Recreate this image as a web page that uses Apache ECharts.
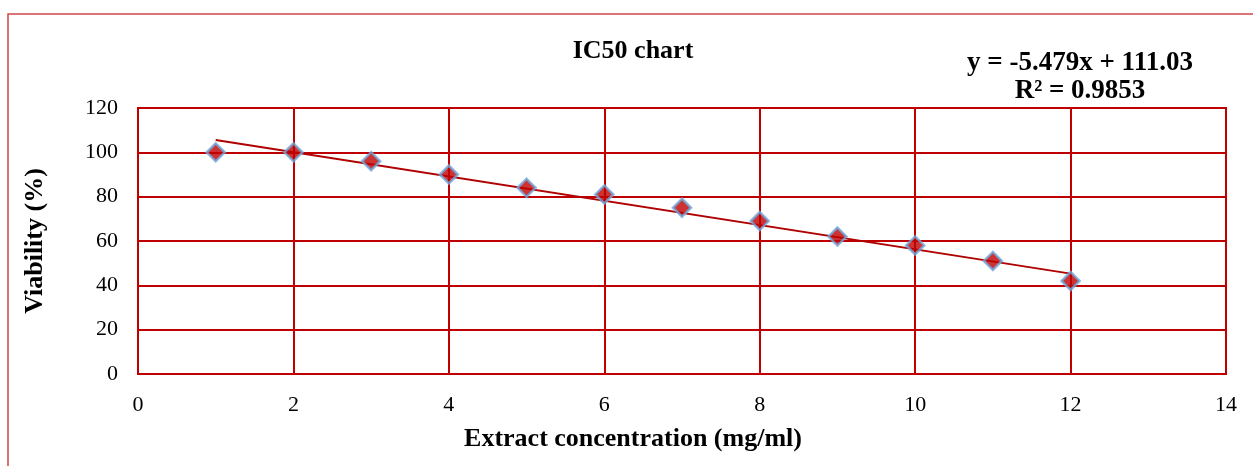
<!DOCTYPE html>
<html>
<head>
<meta charset="utf-8">
<script src="https://cdn.jsdelivr.net/npm/echarts@6/dist/echarts.min.js"></script>
<style>
html,body{margin:0;padding:0;background:#fff;}
#chart{width:1253px;height:466px;}
</style>
</head>
<body>
<div id="chart"></div>
<script>
const concentrations = [1, 2, 3, 4, 5, 6, 7, 8, 9, 10, 11, 12];
const viability = [100, 100, 96, 90, 84, 81, 75, 69, 62, 58, 51, 42];
const xTicks = [0, 2, 4, 6, 8, 10, 12, 14];
const yTicks = [0, 20, 40, 60, 80, 100, 120];
const trendSlope = -5.479;
const trendIntercept = 111.03;
const trendRange = [1, 12];

const points = concentrations.map((x, i) => [x, viability[i]]);
const trendPoints = trendRange.map(x => [x, trendSlope * x + trendIntercept]);

const serif = '"Liberation Serif", "Times New Roman", serif';
const gridRed = '#c00000';

const chart = echarts.init(document.getElementById('chart'));
chart.setOption({
  animation: false,
  backgroundColor: '#fff',
  textStyle: { fontFamily: serif },
  grid: { left: 138, right: 27, top: 108, bottom: 92, show: true, borderColor: gridRed, borderWidth: 2 },
  graphic: [
    { type: 'rect', x: 8, y: 14, shape: { x: 0, y: 0, width: 1270, height: 480 }, style: { fill: 'none', stroke: '#d04848', lineWidth: 1.5 }, silent: true, z: -1 },
    { type: 'text', x: 633, y: 38, style: { text: 'IC50 chart', font: 'bold 26px ' + serif, fill: '#000', textAlign: 'center' } },
    { type: 'text', x: 1080, y: 50, style: { text: 'y = -5.479x + 111.03', font: 'bold 27px ' + serif, fill: '#000', textAlign: 'center' } },
    { type: 'text', x: 1080, y: 78, style: { text: 'R² = 0.9853', font: 'bold 27px ' + serif, fill: '#000', textAlign: 'center' } }
  ],
  xAxis: {
    type: 'value', min: xTicks[0], max: xTicks[xTicks.length - 1], interval: 2,
    name: 'Extract concentration (mg/ml)', nameLocation: 'middle', nameGap: 52,
    nameTextStyle: { fontFamily: serif, fontWeight: 'bold', fontSize: 26, color: '#000', padding: [0, 98, 0, 0] },
    axisLine: { show: false }, axisTick: { show: false },
    axisLabel: { fontFamily: serif, fontSize: 22, color: '#000', margin: 20 },
    splitLine: { show: true, lineStyle: { color: gridRed, width: 2 } }
  },
  yAxis: {
    type: 'value', min: yTicks[0], max: yTicks[yTicks.length - 1], interval: 20,
    name: 'Viability (%)', nameLocation: 'middle', nameGap: 90,
    nameTextStyle: { fontFamily: serif, fontWeight: 'bold', fontSize: 26, color: '#000' },
    axisLine: { show: false }, axisTick: { show: false },
    axisLabel: { fontFamily: serif, fontSize: 22, color: '#000', margin: 20 },
    splitLine: { show: true, lineStyle: { color: gridRed, width: 2 } }
  },
  series: [
    {
      type: 'line', data: trendPoints, symbol: 'none',
      lineStyle: { color: '#b00000', width: 2 }, z: 2
    },
    {
      type: 'scatter', data: points, symbol: 'diamond', symbolSize: 18,
      itemStyle: { color: '#c00000', borderColor: '#6fa8dc', borderWidth: 2.5 }, z: 3
    }
  ]
});
</script>
</body>
</html>
